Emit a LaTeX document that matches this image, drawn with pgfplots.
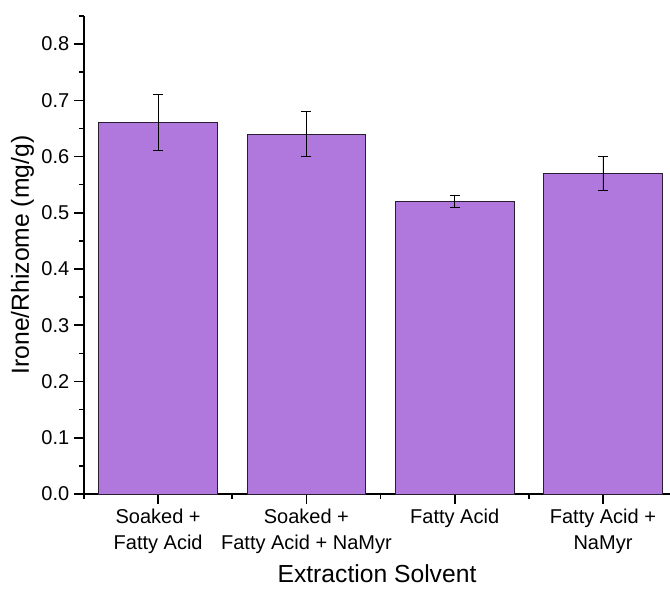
\documentclass[border=0pt]{standalone}
\usepackage{pgfplots}
\pgfplotsset{compat=1.18}
\usepackage{fontspec}
\setmainfont{Liberation Sans}
\definecolor{barfill}{RGB}{176,119,221}
\definecolor{baredge}{RGB}{40,30,50}

\begin{document}
\begin{tikzpicture}
\begin{axis}[
  name=ax,
  scale only axis,
  width=439.5pt, height=358.5pt,
  xmin=0.5, xmax=4.452,
  ymin=0, ymax=0.85,
  axis lines=left,
  axis line style={line width=1.5pt, -},
  clip=false,
  tick align=outside,
  major tick length=7.5pt,
  minor tick length=3.75pt,
  every tick/.style={black, line width=1.2pt},
  xtick={1,2,3,4},
  xticklabels={{Soaked +\\Fatty Acid},{Soaked +\\Fatty Acid + NaMyr},{Fatty Acid},{Fatty Acid +\\NaMyr}},
  minor xtick={0.5,1.5,2.5,3.5},
  ytick={0,0.1,...,0.8},
  minor ytick={0.05,0.15,...,0.86},
  /pgf/number format/assume math mode=true,
  yticklabel style={/pgf/number format/.cd, fixed, fixed zerofill, precision=1},
  ticklabel style={font=\fontsize{15}{18}\selectfont},
  xticklabel style={align=center, font=\fontsize{15}{19.5}\selectfont, anchor=north},
  xlabel={Extraction Solvent},
  ylabel={Irone/Rhizome (mg/g)},
  label style={font=\fontsize{18.5}{22}\selectfont},
  xlabel style={at={(axis description cs:0.5,-0.1862)}, anchor=base, inner sep=1pt},
  ylabel style={at={(axis description cs:-0.0939,0.5)}, anchor=base, inner sep=1pt},
]
\addplot[
  ybar, bar width=0.8,
  fill=barfill, draw=baredge, line width=0.7pt,
  error bars/.cd, y dir=both, y explicit,
  error bar style={line width=0.7pt, black},
  error mark options={rotate=90, mark size=3.75pt, line width=0.7pt, black},
] table[x=x, y=y, y error=err] {
x y    err
1 0.66 0.05
2 0.64 0.04
3 0.52 0.01
4 0.57 0.03
};
\coordinate (sw) at (rel axis cs:0,0);
\coordinate (ne) at (rel axis cs:1,1);
\end{axis}
\pgfresetboundingbox
\path[use as bounding box] ([xshift=-63pt,yshift=-71.25pt]sw) rectangle ([yshift=12pt]ne);
\end{tikzpicture}
\end{document}
